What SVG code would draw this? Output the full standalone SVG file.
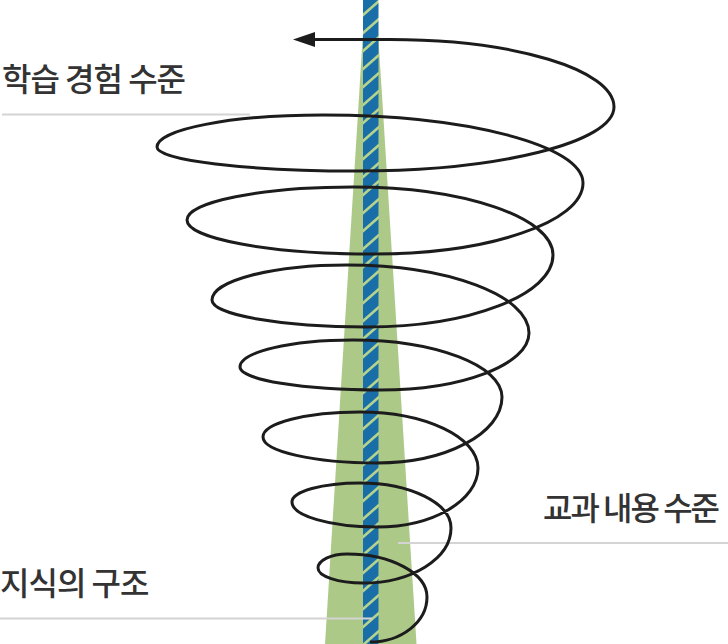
<svg xmlns="http://www.w3.org/2000/svg" width="728" height="644" viewBox="0 0 728 644">
  <style>
    .label { font-family: "Noto Sans CJK KR", "Noto Sans", sans-serif; font-size: 32px; fill: #333333; font-weight: 500; letter-spacing: -1px; }
    .leader { stroke: #d4d4d4; stroke-width: 2; fill: none; }
    .spiral { stroke: #1c1c1c; stroke-width: 3; fill: none; stroke-linejoin: round; }
  </style>
  <defs>
    <pattern id="stripes" patternUnits="userSpaceOnUse" x="363" y="0" width="16" height="18">
      <rect width="16" height="18" fill="#1a6ea7"/>
      <line x1="-4" y1="18.5" x2="20" y2="-2.5" stroke="#b6d38e" stroke-width="2.6"/>
      <line x1="-4" y1="36.5" x2="20" y2="15.5" stroke="#b6d38e" stroke-width="2.6"/>
      <line x1="-4" y1="0.5" x2="20" y2="-20.5" stroke="#b6d38e" stroke-width="2.6"/>
    </pattern>
    <marker id="arrow" markerUnits="userSpaceOnUse" markerWidth="24" markerHeight="18" refX="10" refY="7.5" orient="auto">
      <path d="M0,0 L22,7.5 L0,15 z" fill="#1c1c1c"/>
    </marker>
  </defs>

  <g id="cone">
    <polygon points="365,0 376,0 416.5,644 325,644" fill="#adc988"/>
  </g>
  <g id="axis">
    <rect x="363" y="0" width="15.5" height="644" fill="url(#stripes)"/>
  </g>

  <g id="connectors">
    <line class="leader" x1="2" y1="114.5" x2="250" y2="114.5"/>
    <line class="leader" x1="398" y1="543" x2="728" y2="543"/>
    <line class="leader" x1="0" y1="618.5" x2="372" y2="618.5"/>
    <path class="spiral" marker-end="url(#arrow)" d="M370,642
      C401.5,642 427,621.9 427,597
      C427,573.3 391.2,554 347,554
      C331,554 318,560.3 318,568
      C318,576.3 338.1,583 363,583
      C411.6,583 451,558.4 451,528
      C451,503.1 410.3,483 360,483
      C322.4,483 292,491.5 292,502
      C292,515.8 330.1,527 377,527
      C432.8,527 478,500.6 478,468
      C478,437.1 425.2,412 360,412
      C306.4,412 263,423.2 263,437
      C263,451.4 314,463 377,463
      C446,463 502,433.5 502,397
      C502,365.5 435.3,340 353,340
      C290.6,340 240,352.1 240,367
      C240,379.7 302.7,390 380,390
      C462.3,390 529,364.5 529,333
      C529,295.4 447.5,265 347,265
      C272.4,265 212,280.7 212,300
      C212,314.9 281.4,327 367,327
      C469.7,327 553,294.8 553,255
      C553,217.4 463.5,187 353,187
      C261.3,187 187,201.8 187,220
      C187,238.8 270.3,254 373,254
      C489,254 583,222.2 583,183
      C583,145.4 466.6,115 323,115
      C231.3,115 157,129.3 157,147
      C157,160.3 246.5,171 357,171
      C498.9,171 614,142.3 614,107
      C614,69.7 513.7,39.5 390,39.5
      L305,39.5"/>
  </g>

  <g id="label-top">
    <text class="label" x="2" y="91">학습 경험 수준</text>
  </g>
  <g id="label-right">
    <text class="label" x="543" y="520" style="letter-spacing:-2px">교과 내용 수준</text>
  </g>
  <g id="label-bottom">
    <text class="label" x="0" y="595">지식의 구조</text>
  </g>
</svg>
